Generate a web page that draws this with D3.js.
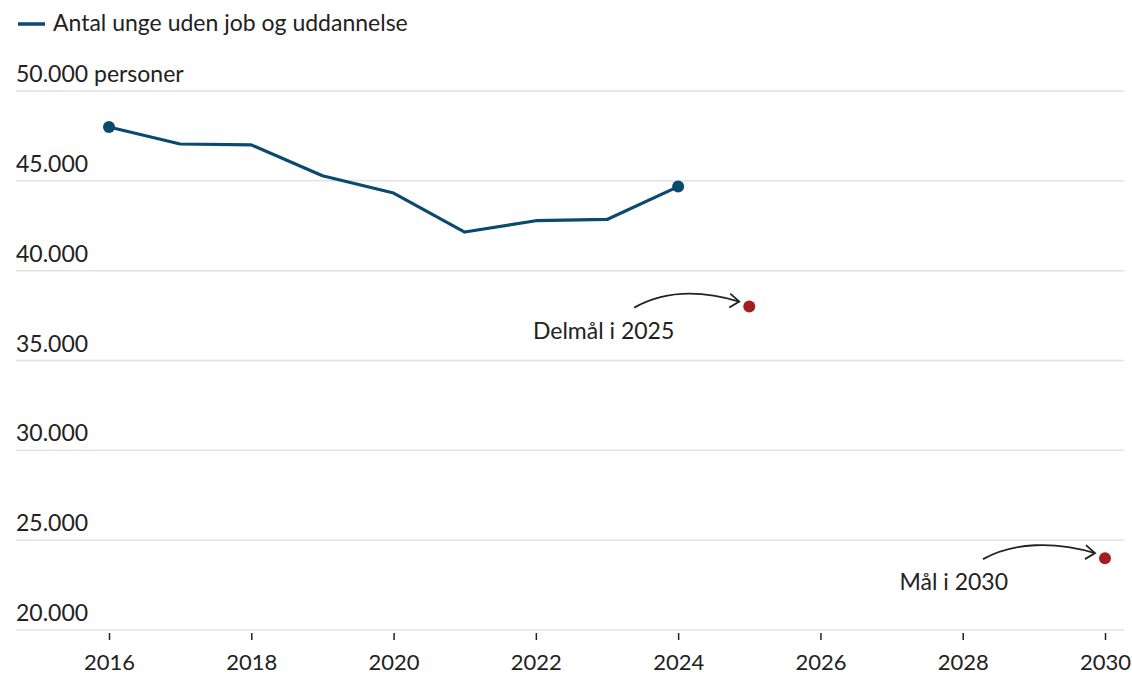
<!DOCTYPE html>
<html>
<head>
<meta charset="utf-8">
<script src="https://cdn.jsdelivr.net/npm/d3@7"></script>
<style>
  body { margin: 0; background: #fff; }
  svg { font-family: Lato, "Open Sans", sans-serif; }
</style>
</head>
<body>
<svg id="chart" width="1132" height="677"></svg>
<script>
var years = [2016, 2017, 2018, 2019, 2020, 2021, 2022, 2023, 2024];
var values = [48000, 47050, 47000, 45280, 44320, 42150, 42780, 42850, 44680];
var goalYears = [2025, 2030];
var goalValues = [38000, 24000];
var goalLabels = ["Delmål i 2025", "Mål i 2030"];
var yTicks = [20000, 25000, 30000, 35000, 40000, 45000, 50000];
var xTicks = [2016, 2018, 2020, 2022, 2024, 2026, 2028, 2030];
var legendLabel = "Antal unge uden job og uddannelse";

var svg = d3.select("#chart");
var blue = "#0b4a6f", red = "#a51d23", ink = "#222";

var x = d3.scaleLinear().domain([2016, 2030]).range([109, 1105]);
var y = d3.scaleLinear().domain([20000, 50000]).range([630, 91]);
var fmt = d3.formatLocale({decimal: ",", thousands: ".", grouping: [3], currency: ["", " kr."]}).format(",");

// gridlines + y labels
var gy = svg.append("g");
gy.selectAll("line").data(yTicks).enter().append("line")
  .attr("x1", 16).attr("x2", 1124)
  .attr("y1", function(d){ return y(d); }).attr("y2", function(d){ return y(d); })
  .attr("stroke", "#e2e2e2").attr("stroke-width", 1.5);
gy.selectAll("text").data(yTicks).enter().append("text")
  .attr("x", 16).attr("y", function(d){ return y(d) - 9; })
  .attr("font-size", 23).attr("fill", ink)
  .text(function(d){ return fmt(d) + (d == 50000 ? " personer" : ""); });

// x axis
var xAxis = d3.axisBottom(x).tickValues(xTicks).tickFormat(d3.format("d")).tickSize(9).tickPadding(14);
var ax = svg.append("g").attr("transform", "translate(0,631)").call(xAxis);
ax.select(".domain").remove();
ax.selectAll(".tick line").attr("stroke", ink).attr("stroke-width", 1.5).attr("y1", 2);
ax.selectAll(".tick text").attr("font-size", 22).attr("fill", ink).attr("font-family", "Lato, 'Open Sans', sans-serif");

// line
var series = years.map(function(d, i){ return {year: d, value: values[i]}; });
var line = d3.line().x(function(d){ return x(d.year); }).y(function(d){ return y(d.value); });
svg.append("path").datum(series)
  .attr("d", line).attr("fill", "none")
  .attr("stroke", blue).attr("stroke-width", 3.2).attr("stroke-linejoin", "round");
svg.selectAll("circle.end").data([series[0], series[series.length - 1]]).enter().append("circle")
  .attr("class", "end")
  .attr("cx", function(d){ return x(d.year); }).attr("cy", function(d){ return y(d.value); })
  .attr("r", 6).attr("fill", blue);

// goals
var goals = goalYears.map(function(d, i){ return {year: d, value: goalValues[i], label: goalLabels[i]}; });
svg.selectAll("circle.goal").data(goals).enter().append("circle")
  .attr("class", "goal")
  .attr("cx", function(d){ return x(d.year); }).attr("cy", function(d){ return y(d.value); })
  .attr("r", 6).attr("fill", red);

// annotation offsets (arrow start, text end) relative to the goal dot
var notePos = [{arrow: 115, text: 75}, {arrow: 122, text: 97}];
goals.forEach(function(d, i){
  var px = x(d.year), py = y(d.value);
  var sx = px - notePos[i].arrow, sy = py + 1;
  var ex = px - 10, ey = py - 5;
  svg.append("path")
    .attr("d", "M" + sx + "," + sy + " C" + (sx + 30) + "," + (sy - 17) + " " + (ex - 40) + "," + (ey - 12) + " " + ex + "," + ey)
    .attr("fill", "none").attr("stroke", ink).attr("stroke-width", 1.8);
  svg.append("path")
    .attr("d", "M" + (ex - 9) + "," + (ey - 8) + " L" + ex + "," + ey + " L" + (ex - 10) + "," + (ey + 6))
    .attr("fill", "none").attr("stroke", ink).attr("stroke-width", 1.8).attr("stroke-linejoin", "miter");
  svg.append("text")
    .attr("x", px - notePos[i].text).attr("y", py + 32)
    .attr("text-anchor", "end").attr("font-size", 23).attr("fill", ink)
    .text(d.label);
});

// legend
svg.append("line").attr("x1", 18).attr("x2", 45).attr("y1", 24).attr("y2", 24)
  .attr("stroke", blue).attr("stroke-width", 3.5);
svg.append("text").attr("x", 53).attr("y", 31).attr("font-size", 23).attr("fill", ink).text(legendLabel);
</script>
</body>
</html>
